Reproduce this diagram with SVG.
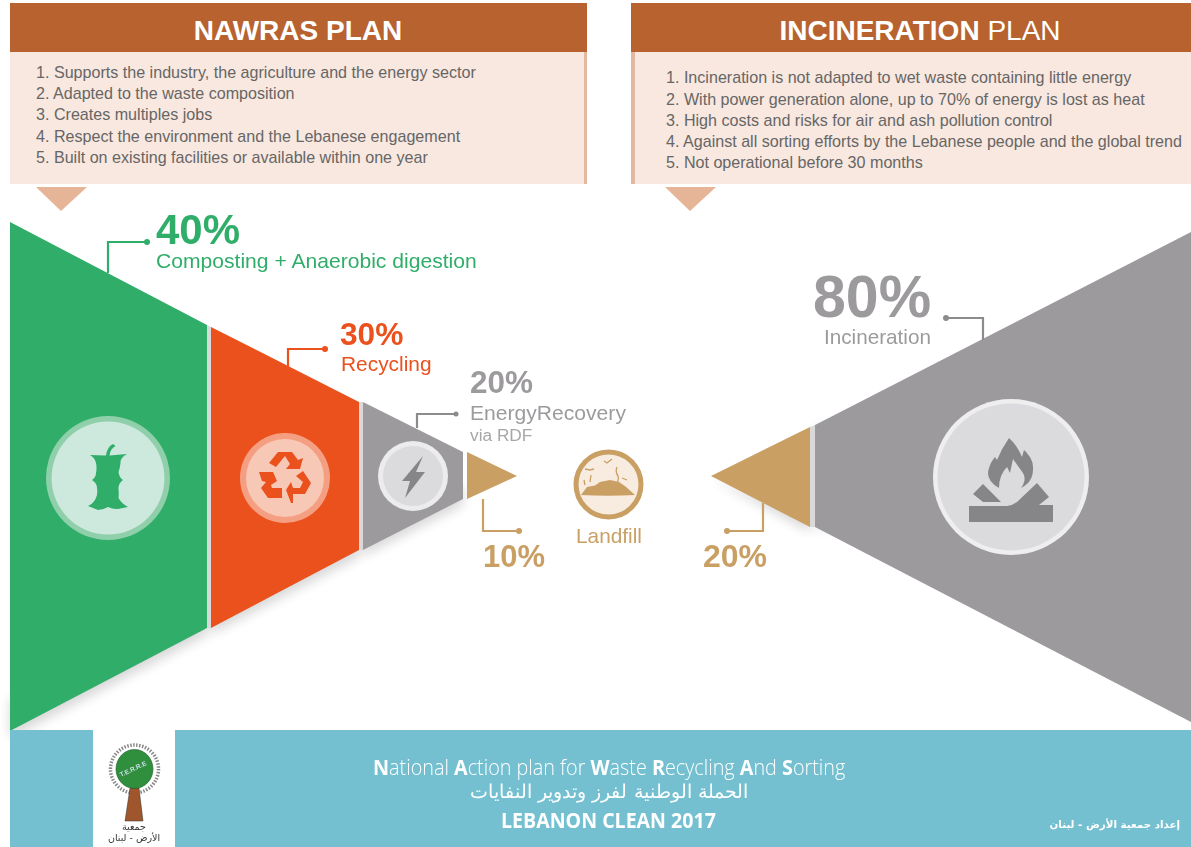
<svg xmlns="http://www.w3.org/2000/svg" width="1191" height="847" viewBox="0 0 1191 847">
<defs>
<filter id="sh" x="-20%" y="-20%" width="140%" height="140%"><feGaussianBlur stdDeviation="6"/></filter>
</defs>
<style>
text{font-family:"Liberation Sans",Arial,sans-serif}
.hd{fill:#b8622f}.bd{fill:#f9e8df}.edge{fill:#e2b9a0}.tri{fill:#e6b497}
.ht{font-size:28px;fill:#fff;text-anchor:middle}
.li{font-size:16.100px;fill:#666}
.gr{fill:#30ad69}.re{fill:#ea511c}.ga{fill:#9c9a9d}.ta{fill:#c99f64}.sep{fill:#d9d9d9}
.ln{fill:none;stroke-width:2.2}
.big{font-weight:700}
.ft{fill:#fff;font-family:"Open Sans","Liberation Sans",sans-serif}
.ar{fill:#fff;font-family:"DejaVu Sans","Noto Sans",sans-serif}
</style>
<rect width="1191" height="847" fill="#fff"/>

<g id="nawras-plan">
<rect class="bd" x="10" y="52" width="577" height="132"/>
<rect class="edge" x="584" y="52" width="3" height="132"/>
<rect class="hd" x="10" y="3" width="577" height="49"/>
<text class="ht" x="298" y="40" font-weight="700">NAWRAS PLAN</text>
<polygon class="tri" points="36,187 87,187 61,211"/>
<text class="li" x="36" y="77.500">1. Supports the industry, the agriculture and the energy sector</text>
<text class="li" x="36" y="98.500">2. Adapted to the waste composition</text>
<text class="li" x="36" y="120">3. Creates multiples jobs</text>
<text class="li" x="36" y="141.500">4. Respect  the environment and the Lebanese engagement</text>
<text class="li" x="36" y="162.500">5. Built on existing facilities or available within one year</text>
</g>

<g id="incineration-plan">
<rect class="bd" x="631" y="52" width="560" height="132"/>
<rect class="edge" x="631" y="52" width="4" height="132"/>
<rect class="hd" x="631" y="3" width="560" height="49"/>
<text class="ht" x="920" y="40"><tspan font-weight="700">INCINERATION</tspan> PLAN</text>
<polygon class="tri" points="665,187 716,187 690,211"/>
<text class="li" x="666" y="82.500">1. Incineration is not adapted to wet waste containing little energy</text>
<text class="li" x="666" y="104.500">2. With power generation alone, up to 70% of energy is lost as heat</text>
<text class="li" x="666" y="125.500">3. High costs and risks for air and ash pollution control</text>
<text class="li" x="666" y="146.500">4. Against all sorting efforts by the Lebanese people and the global trend</text>
<text class="li" x="666" y="167.500">5. Not operational before 30 months</text>
</g>

<g id="shadows" filter="url(#sh)" fill="#000" opacity="0.16">
<polygon points="10,738 207,635 207,600 10,700"/>
<polygon points="211,634 359,557 359,530 211,600"/>
<polygon points="363,556 463,505 463,485 363,530"/>
<polygon points="711,478 810,532 810,510"/>
<polygon points="815,425 835,425 835,530 815,530" opacity="0.5"/>
</g>

<g id="separators" class="sep">
<polygon points="207,325 211,327 211,628 207,628"/>
<polygon points="359,402 363,402 363,550 359,550"/>
<polygon points="810,427 815,425 815,527 810,527"/>
</g>

<g id="composting">
<polygon class="gr" points="10,222 207,325 207,628 10,731"/>
<circle cx="108" cy="478" r="62" fill="#8fcfaa"/>
<circle cx="108" cy="478" r="56.500" fill="#cde8dc"/>
<path class="gr" d="M90,455 L106,455.500 Q107,447 113,444 L115.500,446 Q110,449 109.500,455.500 L127,454 Q120,458 120.500,463 Q120,468 118.500,472 Q119,477 123,480 Q118,484 118.500,489 Q119,494 118.500,498 Q121,503 128,507 L118,509 Q113,509.500 108,507 Q103,510 98,510 L88,506 Q94,503 96,498 Q98,493 97,488 Q97,483 92,480 Q96,477 96,473 Q97,468 96,463 Q95,458 90,455 Z"/>
<text class="big" x="156" y="244" font-size="42" fill="#30ad69">40%</text>
<text x="156" y="268" font-size="21.100" fill="#30ad69">Composting + Anaerobic digestion</text>
</g>

<g id="recycling">
<polygon class="re" points="211,327 359,402 359,550 211,628"/>
<circle cx="285" cy="478" r="45" fill="#f59f82"/>
<circle cx="285" cy="478" r="39" fill="#f8c8b7"/>
<g class="re">
<path d="M269,463 L278,452 L292,452 L298,460 L303,458 L300,469 L286,469 L290,464 L285,456 L276,467 Z"/>
<path d="M259,472 L273,472 L277,481 L271,485 L272,488 L282,488 L282,498 L268,498 L261,488 L266,482 L262,481 Z"/>
<path d="M296,476 L303,471 L311,483 L305,494 L293,494 L293,503 L291,503 L286,490 L291,482 L293,488 L300,488 L303,482 Z"/>
</g>
<text class="big" x="340" y="345" font-size="31.700" fill="#ea511c">30%</text>
<text x="341" y="371" font-size="20.900" fill="#ea511c">Recycling</text>
</g>

<g id="energy-recovery">
<polygon class="ga" points="363,402 463,452 463,499 363,550"/>
<circle cx="413" cy="476" r="35" fill="#ececee"/>
<circle cx="413" cy="476" r="30" fill="#dbdadd"/>
<polygon fill="#868588" points="423,456 402,481 410,481 405,498 425,472 416,472"/>
<text class="big" x="470" y="393" font-size="31.500" fill="#9c9a9d">20%</text>
<text x="470" y="420" font-size="21.100" fill="#9c9a9d">EnergyRecovery</text>
<text x="470" y="441" font-size="17.300" fill="#a8a6a9">via RDF</text>
</g>

<g id="landfill-left">
<polygon class="ta" points="467,452 517,476 467,499"/>
<text class="big" x="483" y="567" font-size="31" fill="#c99f64">10%</text>
</g>

<g id="landfill">
<circle cx="608.500" cy="484.500" r="32.500" fill="#f7ecdf" stroke="#c99f64" stroke-width="5"/>
<path class="ta" d="M581,495 L587,487 L595,485.500 L600,482 L610,480 L619,482 L625.500,486.500 L635,495 Q608,496.500 581,495 Z"/>
<path d="M585,469 L590,470 L594,469 M604,461 L607,463 L612,459 M617,467 Q615,472 618,476 Q619,480 617,483 M622,478 L627,480 M584,480 L585,485 M591,475 L590,482" fill="none" stroke="#c99f64" stroke-width="1.300"/>
<text x="609" y="543" font-size="20.800" fill="#c99f64" text-anchor="middle">Landfill</text>
</g>

<g id="landfill-right">
<polygon class="ta" points="711,476 810,427 810,527"/>
<text class="big" x="703" y="567" font-size="32" fill="#c99f64">20%</text>
</g>

<g id="incineration">
<polygon class="ga" points="815,425 1191,232 1191,722 815,527"/>
<circle cx="1011" cy="477" r="78" fill="#eeeeef"/>
<circle cx="1011" cy="477" r="73.500" fill="#dbdadd"/>
<g fill="#868588">
<path d="M999,488 Q988,482 988,473 Q989,464 995,457 L997,460 Q1002,448 1009,438 Q1017,445 1022,457 L1024,450 Q1033,458 1033,467 Q1034,482 1021,488 Q1027,480 1023,473 L1013,459 L1010,473 L1007,467 Q999,475 999,488 Z"/>
<path d="M973,494 L983,484 L1001,502 L983,502 Z"/>
<path d="M1007,506 Q1013,505 1017,502 L1037,483 L1049,497 L1039,505 L1053,505 L1053,522 L969,522 L969,506 Z"/>
</g>
<text class="big" x="813" y="317" font-size="59" fill="#9c9a9d">80%</text>
<text x="824" y="343.500" font-size="20.700" fill="#9c9a9d">Incineration</text>
</g>

<g id="connectors" class="ln">
<path class="ln" stroke="#30ad69" d="M108,273 V242 H147"/><circle cx="147" cy="242" r="3" fill="#30ad69"/>
<path class="ln" stroke="#ea511c" d="M288,367 V349 H325"/><circle cx="325" cy="349" r="3" fill="#ea511c"/>
<path class="ln" stroke="#8d8b8e" d="M417,428 V414 H456"/><circle cx="456" cy="414" r="2.500" fill="#8d8b8e"/>
<path class="ln" stroke="#c99f64" d="M483,499 V531 H519"/><circle cx="519" cy="531" r="3" fill="#c99f64"/>
<path class="ln" stroke="#c99f64" d="M763,503 V531 H727"/><circle cx="727" cy="531" r="3" fill="#c99f64"/>
<path class="ln" stroke="#8d8b8e" d="M946,318 H983 V340"/><circle cx="946" cy="318" r="3" fill="#8d8b8e"/>
</g>

<g id="footer">
<rect x="10" y="730" width="1181" height="117" fill="#74c0d0"/>
<rect x="93" y="730" width="82" height="117" fill="#fff"/>
<g id="logo">
<circle cx="134.500" cy="769" r="24" fill="none" stroke="#888" stroke-width="3.500" stroke-dasharray="1.500 1.500"/>
<polygon points="130,788 139,788 143,821 125,821" fill="#a0562c" stroke="#333" stroke-width="0.500"/>
<ellipse cx="134.500" cy="769" rx="18.500" ry="19.500" fill="#2f8f3c" stroke="#1e5a28" stroke-width="0.600"/>
<text x="134" y="771" font-size="6.500" font-weight="700" fill="#cde" text-anchor="middle" transform="rotate(-25 134 771)">T.E.R.R.E</text>
<text x="134" y="830" font-size="9.500" fill="#333" text-anchor="middle" style="font-family:'DejaVu Sans',sans-serif">جمعية</text>
<text x="134" y="841" font-size="9.500" fill="#333" text-anchor="middle" style="font-family:'DejaVu Sans',sans-serif">الأرض - لبنان</text>
</g>
<text class="ft" transform="translate(373,775) scale(.9,1)" font-size="22" font-weight="300"><tspan font-weight="700">N</tspan>ational <tspan font-weight="700">A</tspan>ction plan for <tspan font-weight="700">W</tspan>aste <tspan font-weight="700">R</tspan>ecycling <tspan font-weight="700">A</tspan>nd <tspan font-weight="700">S</tspan>orting</text>
<text class="ar" x="609" y="798" font-size="19" font-weight="300" text-anchor="middle">الحملة الوطنية لفرز وتدوير النفايات</text>
<text class="ft" transform="translate(501,828) scale(.89,1)" font-size="22" font-weight="700">LEBANON CLEAN 2017</text>
<text class="ar" x="1180" y="828" font-size="10.300" font-weight="700" text-anchor="end">إعداد جمعية الأرض - لبنان</text>
</g>
</svg>
